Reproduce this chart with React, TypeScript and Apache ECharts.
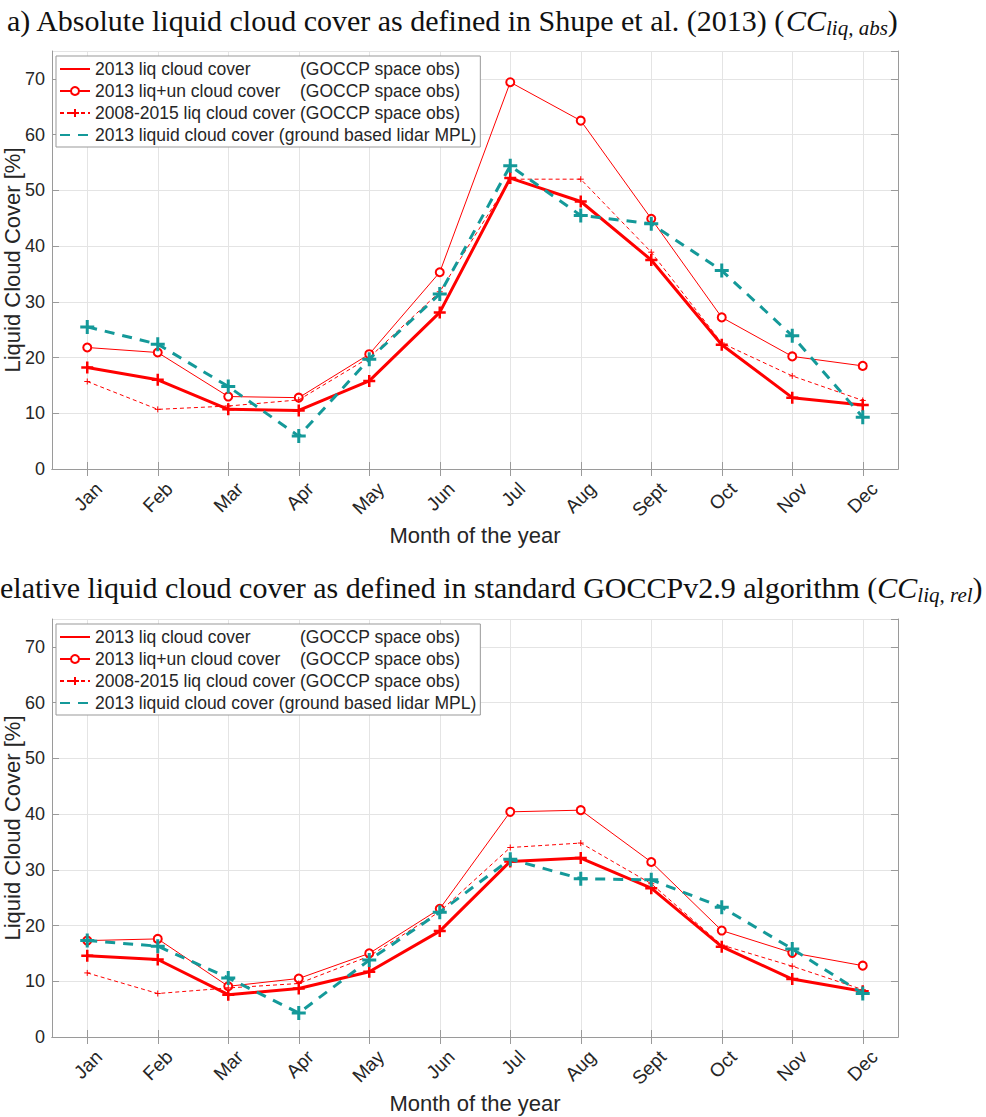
import React, { useEffect, useRef } from 'react';
import * as echarts from 'echarts';

const months = ['Jan', 'Feb', 'Mar', 'Apr', 'May', 'Jun', 'Jul', 'Aug', 'Sept', 'Oct', 'Nov', 'Dec'];

// Panel a) absolute liquid cloud cover [%]
const liq2013Abs = [18.2, 16.0, 10.7, 10.5, 15.8, 28.1, 52.2, 48.0, 37.5, 22.3, 12.8, 11.5];
const liqUn2013Abs = [21.8, 20.9, 13.0, 12.8, 20.6, 35.3, 69.4, 62.5, 44.9, 27.2, 20.2, 18.5];
const liq0815Abs = [15.7, 10.7, 11.3, 12.4, 20.0, 31.8, 52.0, 52.0, 38.9, 22.6, 16.7, 12.3];
const mplAbs = [25.5, 22.4, 14.8, 5.9, 19.7, 31.4, 54.4, 45.5, 44.0, 35.6, 23.9, 9.3];

// Panel b) relative liquid cloud cover [%]
const liq2013Rel = [14.6, 13.9, 7.6, 8.7, 11.7, 19.0, 31.5, 32.1, 26.7, 16.2, 10.4, 8.2];
const liqUn2013Rel = [17.3, 17.6, 9.1, 10.5, 15.0, 23.0, 40.4, 40.7, 31.4, 19.1, 15.1, 12.8];
const liq0815Rel = [11.5, 7.8, 8.8, 9.6, 14.5, 22.5, 34.0, 34.8, 27.5, 16.5, 12.7, 8.5];
const mplRel = [17.3, 16.3, 10.6, 4.3, 13.8, 22.4, 31.9, 28.4, 28.2, 23.3, 15.8, 7.8];

const legendMain = ['2013 liq cloud cover', '2013 liq+un cloud cover', '2008-2015 liq cloud cover', '2013 liquid cloud cover'];
const legendSource = ['(GOCCP space obs)', '(GOCCP space obs)', '(GOCCP space obs)', '(ground based lidar MPL)'];
const seriesNames = legendMain.map((m, i) => m + ' ' + legendSource[i]);

const titleA = 'a) Absolute liquid cloud cover as defined in Shupe et al. (2013) (';
const titleB = 'elative liquid cloud cover as defined in standard GOCCPv2.9 algorithm (';
const subA = 'liq, abs';
const subB = 'liq, rel';

const yAxisName = 'Liquid Cloud Cover [%]';
const xAxisName = 'Month of the year';

const FONT = "'Liberation Sans', Arial, Helvetica, sans-serif";
const SERIF = "'Liberation Serif', 'Times New Roman', serif";
const RED = '#ff0000';
const TEAL = '#149999';
const TXT = '#262626';
const AXIS = '#9a9a9a';
const GRID = '#e4e4e4';
const PLUS = 'path://M0,5L10,5M5,0L5,10';

const grids = [
  { left: 52, top: 51, width: 846, height: 418, outerBoundsMode: 'none', containLabel: false },
  { left: 52, top: 619, width: 846, height: 418, outerBoundsMode: 'none', containLabel: false },
];

function buildOption() {
  const xAxis: any[] = [];
  const yAxis: any[] = [];
  const series: any[] = [];
  const legend: any[] = [];
  const panelData = [
    [liq2013Abs, liqUn2013Abs, liq0815Abs, mplAbs],
    [liq2013Rel, liqUn2013Rel, liq0815Rel, mplRel],
  ];
  for (let g = 0; g < 2; g++) {
    xAxis.push({
      type: 'category',
      gridIndex: g,
      data: months,
      boundaryGap: true,
      axisLine: { show: true, lineStyle: { color: AXIS, width: 1 } },
      axisTick: { show: true, inside: true, alignWithLabel: true, length: 7, lineStyle: { color: AXIS } },
      axisLabel: {
        rotate: 45, fontSize: 19, color: TXT, fontFamily: FONT, margin: 5,
        align: 'right', verticalAlign: 'top', padding: [7, 0, 0, 0], interval: 0,
      },
      splitLine: { show: true, alignWithLabel: true, lineStyle: { color: GRID, width: 1 } },
      name: xAxisName,
      nameLocation: 'middle',
      nameGap: 55,
      nameMoveOverlap: false,
      nameTextStyle: { fontSize: 22, color: TXT, fontFamily: FONT },
    });
    yAxis.push({
      type: 'value',
      gridIndex: g,
      min: 0,
      max: 75,
      interval: 10,
      axisLine: { show: true, lineStyle: { color: AXIS, width: 1 } },
      axisTick: { show: true, inside: true, length: 7, lineStyle: { color: AXIS } },
      axisLabel: { fontSize: 18, color: TXT, fontFamily: FONT, margin: 7, showMaxLabel: false },
      splitLine: { show: true, lineStyle: { color: GRID, width: 1 } },
      name: yAxisName,
      nameLocation: 'middle',
      nameGap: 29,
      nameMoveOverlap: false,
      nameTextStyle: { fontSize: 22, color: TXT, fontFamily: FONT },
    });
  }
  // box axes (top / right)
  for (let g = 0; g < 2; g++) {
    xAxis.push({
      type: 'category',
      gridIndex: g,
      position: 'top',
      data: months,
      boundaryGap: true,
      axisLine: { show: true, lineStyle: { color: AXIS, width: 1 } },
      axisTick: { show: true, inside: true, alignWithLabel: true, length: 7, lineStyle: { color: AXIS } },
      axisLabel: { show: false },
      splitLine: { show: false },
    });
    yAxis.push({
      type: 'value',
      gridIndex: g,
      position: 'right',
      min: 0,
      max: 75,
      interval: 10,
      axisLine: { show: true, lineStyle: { color: AXIS, width: 1 } },
      axisTick: { show: true, inside: true, length: 7, lineStyle: { color: AXIS } },
      axisLabel: { show: false },
      splitLine: { show: false },
    });
  }
  for (let g = 0; g < 2; g++) {
    const [d1, d2, d3, d4] = panelData[g];
    series.push(
      {
        name: seriesNames[0], type: 'line', xAxisIndex: g, yAxisIndex: g, data: d1,
        symbol: PLUS, symbolSize: 12, showAllSymbol: true,
        lineStyle: { color: RED, width: 3 },
        itemStyle: { color: RED, borderColor: RED, borderWidth: 2.5 },
        z: 2,
      },
      {
        name: seriesNames[1], type: 'line', xAxisIndex: g, yAxisIndex: g, data: d2,
        symbol: 'emptyCircle', symbolSize: 8, showAllSymbol: true,
        lineStyle: { color: RED, width: 1 },
        itemStyle: { color: RED, borderColor: RED, borderWidth: 1 },
        z: 3,
      },
      {
        name: seriesNames[2], type: 'line', xAxisIndex: g, yAxisIndex: g, data: d3,
        symbol: PLUS, symbolSize: 6, showAllSymbol: true,
        lineStyle: { color: RED, width: 1, type: [4, 3] },
        itemStyle: { color: RED, borderColor: RED, borderWidth: 1 },
        z: 4,
      },
      {
        name: seriesNames[3], type: 'line', xAxisIndex: g, yAxisIndex: g, data: d4,
        symbol: PLUS, symbolSize: 14, showAllSymbol: true,
        lineStyle: { color: TEAL, width: 3, type: [10, 8] },
        itemStyle: { color: TEAL, borderColor: TEAL, borderWidth: 3 },
        z: 5,
      },
    );
    legend.push({
      orient: 'vertical',
      left: 56,
      top: g === 0 ? 56 : 624,
      data: seriesNames.map((n, k) => (k === 0 || k === 3 ? { name: n, itemStyle: { borderWidth: 0 } } : { name: n })),
      itemWidth: 30,
      itemHeight: 10,
      itemGap: 4,
      padding: [4, 4, 3, 3],
      backgroundColor: '#ffffff',
      borderColor: '#999999',
      borderWidth: 1,
      borderRadius: 0,
      selectedMode: false,
      textStyle: {
        fontSize: 17.5, color: TXT, fontFamily: FONT, lineHeight: 18,
        rich: {
          a: { width: 205, fontSize: 17.5, color: TXT, fontFamily: FONT, lineHeight: 18 },
          c: { fontSize: 17.5, color: TXT, fontFamily: FONT, lineHeight: 18 },
          b: { fontSize: 17.5, color: TXT, fontFamily: FONT, lineHeight: 18 },
        },
      },
      formatter: (name: string) => {
        const k = seriesNames.indexOf(name);
        if (k === 3) return '{c|' + legendMain[k] + ' }{b|' + legendSource[k] + '}';
        return '{a|' + legendMain[k] + '}{b|' + legendSource[k] + '}';
      },
    });
  }
  const titleRich = {
    i: { fontFamily: SERIF, fontStyle: 'italic', fontSize: 30, color: '#111', lineHeight: 32 },
    s: { fontFamily: SERIF, fontStyle: 'italic', fontSize: 21, color: '#111', lineHeight: 21, padding: [16, 0, 0, 0] },
    p: { fontFamily: SERIF, fontSize: 30, color: '#111', lineHeight: 32 },
  };
  const title = [
    {
      left: 7, top: 4, padding: 0,
      text: '{p|' + titleA + '}{i|CC}{s|' + subA + '}{p|)}',
      textStyle: { fontFamily: SERIF, fontSize: 30, fontWeight: 'normal', color: '#111', lineHeight: 32, rich: titleRich },
    },
    {
      left: 0, top: 571, padding: 0,
      text: '{p|' + titleB + '}{i|CC}{s|' + subB + '}{p|)}',
      textStyle: { fontFamily: SERIF, fontSize: 30, fontWeight: 'normal', color: '#111', lineHeight: 32, rich: titleRich },
    },
  ];
  return {
    animation: false,
    backgroundColor: '#ffffff',
    title,
    grid: grids,
    xAxis,
    yAxis,
    legend,
    series,
  };
}

export default function App() {
  const ref = useRef<HTMLDivElement>(null);
  useEffect(() => {
    if (!ref.current) return;
    const chart = echarts.init(ref.current, null, { renderer: 'svg' });
    chart.setOption(buildOption() as any);
    return () => chart.dispose();
  }, []);
  return <div ref={ref} style={{ position: 'absolute', left: 0, top: 0, width: 986, height: 1117 }} />;
}
